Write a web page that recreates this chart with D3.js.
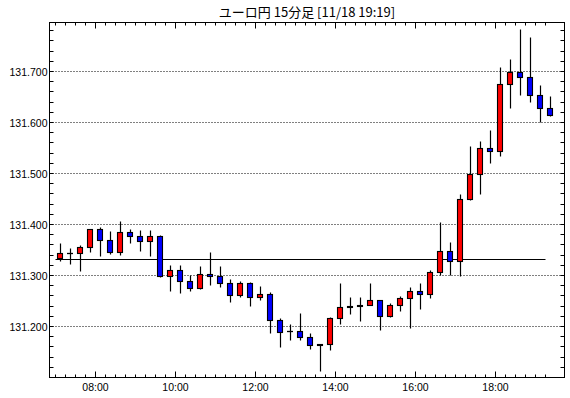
<!DOCTYPE html>
<html><head><meta charset="utf-8">
<script src="https://cdn.jsdelivr.net/npm/d3@7/dist/d3.min.js"></script>
<style>
html,body{margin:0;padding:0;background:#fff;}
svg{display:block;}
</style>
</head><body>
<svg id="chart" width="570" height="398"></svg>
<script>
// ---- data ----
const titleText = "ユーロ円 15分足 [11/18 19:19]";
const times = ["07:00","07:15","07:30","07:45","08:00","08:15","08:30","08:45","09:00","09:15",
  "09:30","09:45","10:00","10:15","10:30","10:45","11:00","11:15","11:30","11:45",
  "12:00","12:15","12:30","12:45","13:00","13:15","13:30","13:45","14:00","14:15",
  "14:30","14:45","15:00","15:15","15:30","15:45","16:00","16:15","16:30","16:45",
  "17:00","17:15","17:30","17:45","18:00","18:15","18:30","18:45","19:00","19:15"];
const opens = [131.334,131.343,131.343,131.355,131.390,131.369,131.345,131.384,131.377,131.367,
  131.377,131.298,131.310,131.289,131.275,131.302,131.298,131.285,131.261,131.285,
  131.257,131.263,131.212,131.190,131.190,131.179,131.163,131.164,131.216,131.238,
  131.240,131.242,131.250,131.220,131.242,131.254,131.269,131.263,131.306,131.347,
  131.328,131.448,131.498,131.549,131.543,131.674,131.698,131.688,131.652,131.628];
const highs = [131.362,131.353,131.359,131.390,131.394,131.387,131.405,131.390,131.389,131.389,
  131.378,131.319,131.319,131.300,131.317,131.346,131.317,131.293,131.289,131.287,
  131.279,131.267,131.216,131.203,131.226,131.187,131.164,131.218,131.285,131.257,
  131.257,131.285,131.250,131.246,131.259,131.277,131.285,131.310,131.403,131.365,
  131.458,131.552,131.563,131.585,131.707,131.724,131.782,131.766,131.673,131.651];
const lows = [131.327,131.322,131.307,131.345,131.337,131.341,131.339,131.363,131.348,131.337,
  131.296,131.268,131.265,131.268,131.272,131.281,131.276,131.247,131.256,131.240,
  131.250,131.187,131.159,131.173,131.172,131.154,131.112,131.152,131.204,131.224,
  131.209,131.242,131.193,131.218,131.230,131.197,131.234,131.255,131.300,131.300,
  131.298,131.447,131.459,131.519,131.533,131.628,131.652,131.640,131.599,131.612];
const closes = [131.343,131.343,131.355,131.390,131.369,131.345,131.384,131.377,131.367,131.377,
  131.298,131.310,131.289,131.275,131.302,131.298,131.285,131.261,131.285,131.257,
  131.263,131.212,131.189,131.190,131.179,131.162,131.164,131.216,131.238,131.240,
  131.242,131.250,131.220,131.242,131.254,131.269,131.263,131.306,131.347,131.328,
  131.449,131.498,131.549,131.543,131.674,131.698,131.688,131.652,131.628,131.614];
const yTickValues = [131.2,131.3,131.4,131.5,131.6,131.7];
const xLabelTimes = ["08:00","10:00","12:00","14:00","16:00","18:00"];
const refLevel = 131.331;
const refFrom = "07:00", refTo = "19:15";

// ---- helpers ----
const parse = s => { const [h,m] = s.split(":").map(Number); return new Date(2020,10,18,h,m,0); };
const data = times.map((t,i)=>({t:parse(t),o:opens[i],h:highs[i],l:lows[i],c:closes[i]}));

const L = 49.5, R = 564.5, T = 22.5, B = 377.5;
const svg = d3.select("#chart");

const x = d3.scaleTime()
  .domain([new Date(2020,10,18,6,50,30), new Date(2020,10,18,19,43,0)])
  .range([L, R]);
const y = d3.scaleLinear().domain([131.1, 131.796]).range([B, T]);

const snap = v => Math.round(v - 0.5) + 0.5;

// title
svg.append("text").attr("x", (L+R)/2).attr("y", 17)
  .attr("text-anchor","middle")
  .style("font-family","'Noto Sans CJK JP','Noto Sans',sans-serif")
  .style("font-size","13px").attr("fill","#000").text(titleText);

// gridlines
svg.append("g").selectAll("line").data(yTickValues).join("line")
  .attr("x1", L).attr("x2", R)
  .attr("y1", d=>snap(y(d))).attr("y2", d=>snap(y(d)))
  .attr("stroke","#000").attr("stroke-width",1).attr("stroke-dasharray","1,2");

// y axes (left/right) minor ticks inward
const yMinor = d3.range(131.10, 131.7901, 0.02).map(v=>+v.toFixed(2));
const yAxisL = d3.axisLeft(y).tickValues(yMinor).tickSize(-4).tickFormat("");
const yAxisR = d3.axisRight(y).tickValues(yMinor).tickSize(-4).tickFormat("");
const gL = svg.append("g").attr("transform",`translate(${L},0)`).call(yAxisL);
const gR = svg.append("g").attr("transform",`translate(${R},0)`).call(yAxisR);
[gL,gR].forEach(g=>{ g.select(".domain").remove();
  g.selectAll(".tick").attr("transform", d=>`translate(0,${snap(y(d))})`);
  g.selectAll("line").attr("stroke","#000"); });

// y labels
svg.append("g").selectAll("text").data(yTickValues).join("text")
  .attr("x", L-2).attr("y", d=>snap(y(d))+4)
  .attr("text-anchor","end")
  .style("font-family","'Liberation Sans',Arial,sans-serif").style("font-size","10.5px")
  .attr("fill","#000").text(d=>d3.format(".3f")(d));

// x ticks top/bottom
const xTicks = d3.timeMinute.every(15).range(parse("07:00"), new Date(parse("19:15").getTime()+1));
const isMajor = d => d.getMinutes()===0 && d.getHours()%2===0;
const xg = svg.append("g");
xTicks.forEach(d=>{
  const xx = snap(x(d)); const len = isMajor(d) ? 6 : 3;
  xg.append("line").attr("x1",xx).attr("x2",xx).attr("y1",T).attr("y2",T+len).attr("stroke","#000");
  xg.append("line").attr("x1",xx).attr("x2",xx).attr("y1",B).attr("y2",B-len).attr("stroke","#000");
});
svg.append("g").selectAll("text").data(xLabelTimes.map(parse)).join("text")
  .attr("x", d=>snap(x(d))).attr("y", 391)
  .attr("text-anchor","middle")
  .style("font-family","'Liberation Sans',Arial,sans-serif").style("font-size","10.5px")
  .attr("fill","#000").text(d3.timeFormat("%H:%M"));

// reference line
svg.append("line").attr("x1", snap(x(parse(refFrom)))).attr("x2", snap(x(parse(refTo))))
  .attr("y1", snap(y(refLevel))).attr("y2", snap(y(refLevel)))
  .attr("stroke","#000").attr("stroke-width",1);

// candles
const half = 7.5*60*1000;
const cg = svg.append("g");
data.forEach(d=>{
  const cx = snap(x(new Date(d.t.getTime()+half)));
  cg.append("line").attr("x1",cx).attr("x2",cx)
    .attr("y1", snap(y(d.h))).attr("y2", snap(y(d.l)))
    .attr("stroke","#000").attr("stroke-width",1.2);
  const yt = snap(y(Math.max(d.o,d.c))), yb = snap(y(Math.min(d.o,d.c)));
  const col = d.c > d.o ? "#ff0000" : (d.c < d.o ? "#0000ff" : "#000");
  if (yb - yt < 1) {
    cg.append("line").attr("x1",cx-3.5).attr("x2",cx+2.5).attr("y1",yt).attr("y2",yt)
      .attr("stroke","#000").attr("stroke-width",1.3);
  } else {
    cg.append("rect").attr("x",cx-3).attr("y",yt).attr("width",5).attr("height",yb-yt)
      .attr("fill",col).attr("stroke","#000").attr("stroke-width",1.1);
  }
});

// frame
svg.append("rect").attr("x",L).attr("y",T).attr("width",R-L).attr("height",B-T)
  .attr("fill","none").attr("stroke","#000").attr("stroke-width",1);
</script>
</body></html>
